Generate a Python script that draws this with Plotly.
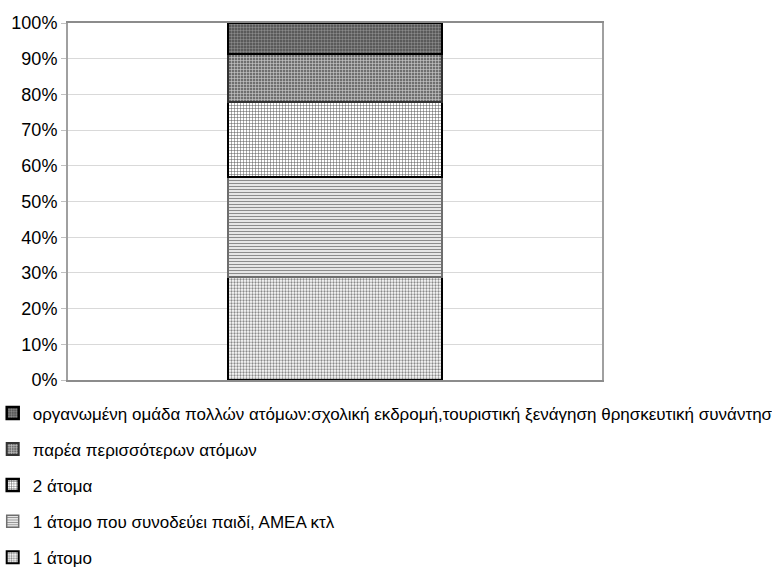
import plotly.graph_objects as go

category = [""]
series_names = [
    "1 άτομο",
    "1 άτομο που συνοδεύει παιδί, ΑΜΕΑ κτλ",
    "2 άτομα",
    "παρέα περισσότερων ατόμων",
    "οργανωμένη ομάδα πολλών ατόμων:σχολική εκδρομή,τουριστική ξενάγηση θρησκευτική συνάντηση",
]
series_values = [28.8, 28.1, 21.1, 13.3, 8.7]
y_ticks = [0, 10, 20, 30, 40, 50, 60, 70, 80, 90, 100]
y_tick_labels = ["0%", "10%", "20%", "30%", "40%", "50%", "60%", "70%", "80%", "90%", "100%"]

styles = [
    dict(shape=".", bg="#ffffff", fg="#8a8a8a", size=3, sol=0.45, line="#000000", lw=2),
    dict(shape="-", bg="#e6e6e6", fg="#8c8c8c", size=3, sol=0.35, line="#6e6e6e", lw=1.5),
    dict(shape="+", bg="#ffffff", fg="#555555", size=3, sol=0.3, line="#000000", lw=2.5),
    dict(shape="+", bg="#6e6e6e", fg="#cfcfcf", size=3, sol=0.35, line="#333333", lw=2),
    dict(shape=".", bg="#4a4a4a", fg="#8a8a8a", size=3, sol=0.5, line="#000000", lw=2.5),
]

FONT = "Liberation Sans Narrow, Arial Narrow, Liberation Sans, Arial, sans-serif"

fig = go.Figure()
n = len(series_names)
for i, (name, val) in enumerate(zip(series_names, series_values)):
    s = styles[i]
    fig.add_trace(go.Bar(
        x=category, y=[val], name=name, width=0.4,
        legendgroup=f"g{i}", legendrank=n - i,
        marker=dict(
            color=s["bg"],
            line=dict(color=s["line"], width=s["lw"]),
            pattern=dict(shape=s["shape"], bgcolor=s["bg"], fgcolor=s["fg"],
                         size=s["size"], solidity=s["sol"], fillmode="replace"),
        ),
    ))

fig.update_layout(
    width=772, height=588,
    barmode="stack",
    plot_bgcolor="white", paper_bgcolor="white",
    margin=dict(l=68, r=170, t=23, b=208, autoexpand=False),
    font=dict(family=FONT, size=17, color="#000000"),
    showlegend=True,
    legend=dict(
        orientation="v", traceorder="grouped", tracegroupgap=11,
        x=-0.141, xanchor="left", y=-0.043, yanchor="top",
        font=dict(family=FONT, size=17, color="#000000"),
        itemwidth=30, bgcolor="rgba(0,0,0,0)",
    ),
    xaxis=dict(
        range=[-0.5, 0.5], showticklabels=False, ticks="",
        showline=True, linecolor="#8c8c8c", linewidth=2, mirror=True,
        showgrid=False, zeroline=False, automargin=False,
    ),
    yaxis=dict(
        range=[0, 100], tickvals=y_ticks, ticktext=y_tick_labels,
        showgrid=True, gridcolor="#d9d9d9", gridwidth=1,
        showline=True, linecolor="#a0a0a0", linewidth=2, mirror=True,
        ticks="outside", ticklen=5, tickcolor="#c0c0c0",
        zeroline=False, automargin=False, tickfont=dict(family=FONT, size=18),
    ),
)

fig.write_html(
    "out.html",
    config={"displayModeBar": False},
    post_script="document.body.style.margin='0';document.body.style.overflow='hidden';",
)
